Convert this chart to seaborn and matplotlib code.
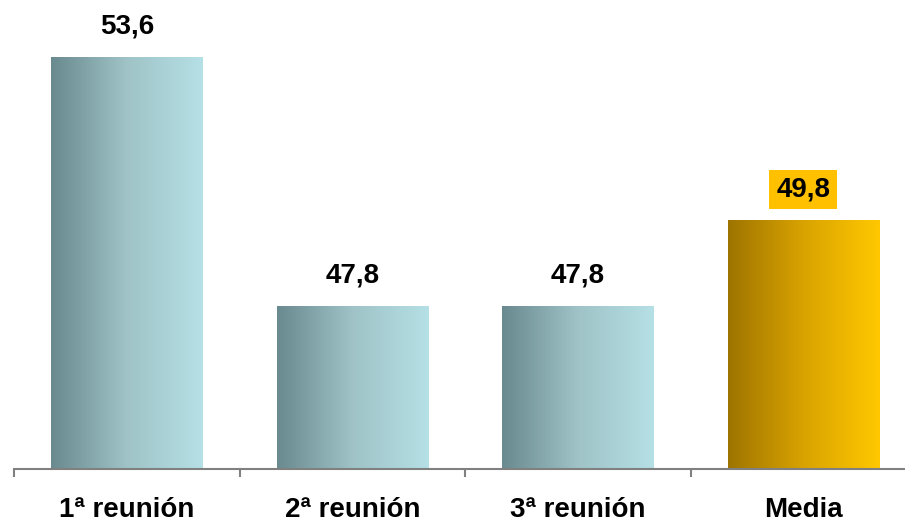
import numpy as np
import pandas as pd
from matplotlib import pyplot as plt
from matplotlib.colors import LinearSegmentedColormap
import seaborn as sns

# data
categories = ["1ª reunión", "2ª reunión", "3ª reunión", "Media"]
values = [53.6, 47.8, 47.8, 49.8]
value_labels = ["53,6", "47,8", "47,8", "49,8"]

df = pd.DataFrame({"cat": categories, "val": values})

sns.set_style("white")
plt.rcParams['font.family'] = ['Liberation Sans Narrow', 'Liberation Sans', 'DejaVu Sans']
plt.rcParams['text.color'] = 'black'
plt.rcParams['xtick.color'] = 'black'

fig = plt.figure(figsize=(9.05, 5.25), dpi=100)
ax = fig.add_axes([14 / 905, 56 / 525, 902 / 905, 469 / 525])

sns.barplot(x="cat", y="val", data=df, ax=ax, width=0.67, color="white",
            linewidth=0)

teal = LinearSegmentedColormap.from_list("teal", ["#698a8e", "#9fc3c7", "#b5e0e5"])
gold = LinearSegmentedColormap.from_list("gold", ["#9e7400", "#d9a300", "#ffc800"])
grad = np.linspace(0, 1, 256).reshape(1, -1)

for i, p in enumerate(ax.patches):
    x0, w = p.get_x(), p.get_width()
    cmap = gold if categories[i] == "Media" else teal
    im = ax.imshow(grad, cmap=cmap, aspect="auto",
                   extent=(x0, x0 + w, 44, values[i]), zorder=2)
    im.set_clip_path(p)
    box = None
    if categories[i] == "Media":
        box = dict(boxstyle="square,pad=0.25", fc="#ffc000", ec="none")
    ax.annotate(value_labels[i], (i, values[i]), xytext=(0, 22),
                textcoords="offset points", ha="center", va="center",
                fontsize=20, fontweight="bold", color="black", bbox=box)

ax.set_xlim(-0.5, 3.5)
ax.set_ylim(44, 44 + 469 / 42.93)

for s in ["top", "right", "left"]:
    ax.spines[s].set_visible(False)
ax.spines["bottom"].set_color("#808080")
ax.spines["bottom"].set_linewidth(1.5)
ax.set_yticks([])
ax.set_xticks(range(4))
ax.set_xticklabels(categories, fontsize=20, fontweight="bold", color="black")
ax.set_xticks([-0.5, 0.5, 1.5, 2.5, 3.5], minor=True)
ax.tick_params(axis="x", which="major", length=0, pad=20)
ax.tick_params(axis="x", which="minor", length=6, width=1.5, color="#808080",
               direction="out", bottom=True)
ax.set_xlabel("")
ax.set_ylabel("")

plt.savefig("out.png", dpi=100)
